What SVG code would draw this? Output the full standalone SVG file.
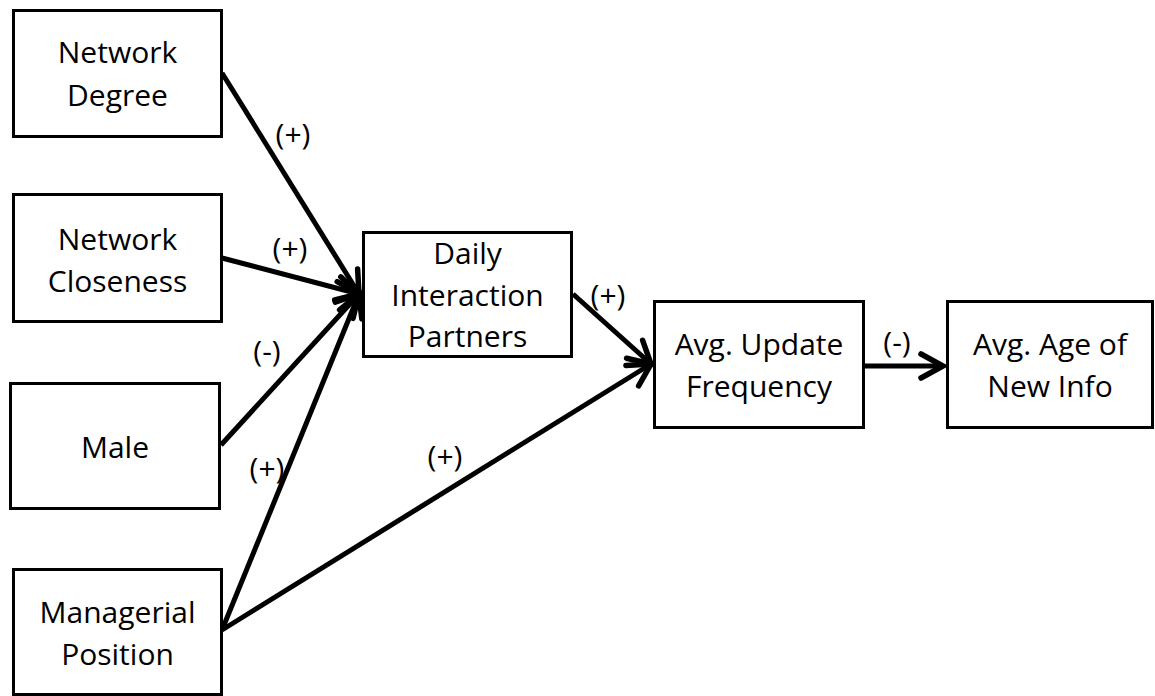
<svg xmlns="http://www.w3.org/2000/svg" width="1155" height="696" viewBox="0 0 1155 696">
<style>
.box{fill:#fff;stroke:#000;stroke-width:3}
.t{font-family:"Open Sans","Noto Sans",sans-serif;font-size:30px;fill:#000;text-anchor:middle}
.e{stroke:#000;stroke-width:5;fill:none;marker-end:url(#ah)}
</style>
<defs>
<marker id="ah" markerUnits="userSpaceOnUse" viewBox="-30 -18 36 36" markerWidth="36" markerHeight="36" refX="0" refY="0" orient="auto" overflow="visible">
<path d="M-22,-12 L0,0 L-22,12" fill="none" stroke="#000" stroke-width="5.5" stroke-linecap="round" stroke-linejoin="miter"/>
</marker>
</defs>
<rect width="1155" height="696" fill="#fff"/>
<g id="connectors">
<line class="e" x1="222" y1="73" x2="359" y2="294"/>
<line class="e" x1="222" y1="258" x2="359" y2="294"/>
<line class="e" x1="221" y1="445" x2="359" y2="294"/>
<line class="e" x1="222" y1="630" x2="359" y2="294"/>
<line class="e" x1="222" y1="630" x2="651" y2="364"/>
<line class="e" x1="573" y1="294" x2="651" y2="364"/>
<line class="e" x1="865" y1="366" x2="943" y2="366"/>
<text class="t" x="293" y="145">(+)</text>
<text class="t" x="290" y="259">(+)</text>
<text class="t" x="267" y="362">(-)</text>
<text class="t" x="267" y="479">(+)</text>
<text class="t" x="445" y="467">(+)</text>
<text class="t" x="608" y="306">(+)</text>
<text class="t" x="897" y="353">(-)</text>
</g>
<g id="network-degree">
<rect class="box" x="13.5" y="10.5" width="208" height="126"/>
<text class="t" x="117.5" y="63">Network</text>
<text class="t" x="117.5" y="106">Degree</text>
</g>
<g id="network-closeness">
<rect class="box" x="13.5" y="194.5" width="208" height="127"/>
<text class="t" x="117.5" y="250">Network</text>
<text class="t" x="117.5" y="292">Closeness</text>
</g>
<g id="male">
<rect class="box" x="10.5" y="383.5" width="209" height="125"/>
<text class="t" x="115" y="458">Male</text>
</g>
<g id="managerial-position">
<rect class="box" x="13.5" y="569.5" width="208" height="125"/>
<text class="t" x="117.5" y="623">Managerial</text>
<text class="t" x="117.5" y="665">Position</text>
</g>
<g id="daily-interaction-partners">
<rect class="box" x="363.5" y="232.5" width="208" height="124"/>
<text class="t" x="467.5" y="264">Daily</text>
<text class="t" x="467.5" y="306">Interaction</text>
<text class="t" x="467.5" y="347">Partners</text>
</g>
<g id="avg-update-frequency">
<rect class="box" x="654.5" y="301.5" width="209" height="126"/>
<text class="t" x="759" y="355">Avg. Update</text>
<text class="t" x="759" y="397">Frequency</text>
</g>
<g id="avg-age-new-info">
<rect class="box" x="947.5" y="301.5" width="205" height="126"/>
<text class="t" x="1050" y="355">Avg. Age of</text>
<text class="t" x="1050" y="397">New Info</text>
</g>
</svg>
